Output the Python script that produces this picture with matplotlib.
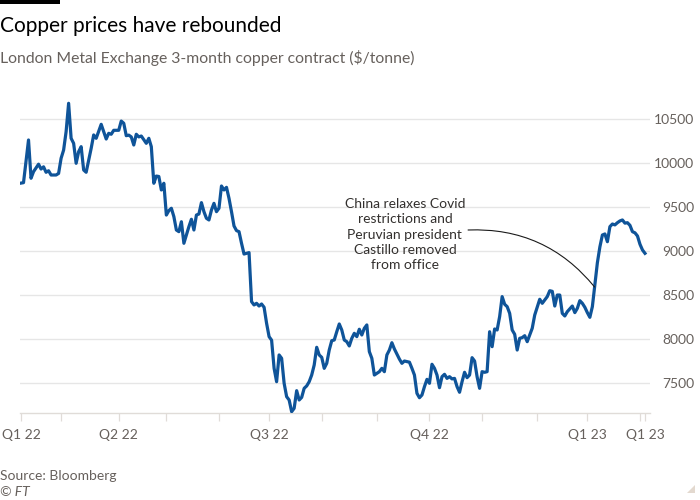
import matplotlib
matplotlib.use("Agg")
import matplotlib.pyplot as plt
import matplotlib.patches as mpatches
import numpy as np
import pandas as pd

plt.rcParams['font.family'] = ['Lato', 'DejaVu Sans']

# ---- data: LME 3-month copper ($/tonne), by trading session from 7 Feb 2022 ----
sessions = [0, 1, 3, 4, 5, 7, 8, 9, 10, 11, 12, 14, 15, 16, 17, 18, 19, 20, 21, 22,
            23, 24, 25, 26, 28, 29, 30, 32, 34, 35, 36, 37, 39, 40, 41, 42, 43, 44, 45, 46,
            47, 48, 50, 51, 52, 53, 54, 55, 56, 57, 58, 59, 60, 61, 62, 63, 64, 65, 66, 67,
            68, 69, 70, 71, 72, 73, 74, 75, 76, 77, 78, 79, 80, 81, 82, 83, 84, 85, 86, 87,
            88, 89, 90, 91, 92, 93, 94, 95, 96, 97, 98, 99, 100, 101, 102, 103, 104, 105, 106, 107,
            108, 109, 110, 111, 112, 113, 114, 115, 116, 117, 118, 119, 120, 121, 122, 123, 124, 125, 126, 127,
            128, 129, 130, 131, 132, 133, 134, 135, 136, 137, 138, 139, 140, 141, 143, 144, 145, 146, 147, 148,
            149, 151, 152, 153, 154, 155, 156, 157, 158, 159, 160, 161, 162, 163, 164, 165, 166, 167, 168, 169,
            170, 171, 172, 173, 174, 175, 176, 177, 178, 179, 180, 181, 182, 183, 184, 185, 186, 187, 188, 189,
            190, 191, 192, 193, 194, 195, 196, 197, 198, 199, 200, 201, 202, 204, 205, 207, 208, 209, 210, 211,
            212, 213, 214, 215, 216, 217, 218, 220, 221, 222, 223, 224, 225, 226, 227, 228, 229, 230, 231, 232,
            233, 234, 235, 236, 237, 238, 239, 240, 241, 242, 243, 244, 245, 246, 247, 248, 249]
prices = [9775, 9780, 10265, 9830, 9905, 9990, 9935, 9960, 9898, 9915, 9867, 9867, 9885, 10057, 10150, 10360, 10682, 10284, 10227, 10000,
          10132, 10189, 9924, 9898, 10170, 10322, 10284, 10443, 10276, 10341, 10330, 10375, 10375, 10480, 10455, 10314, 10320, 10300, 10208, 10330,
          10300, 10310, 10227, 10284, 10189, 9773, 9855, 9850, 9697, 9773, 9412, 9462, 9489, 9394, 9242, 9223, 9336, 9091, 9185, 9280,
          9364, 9242, 9412, 9424, 9553, 9450, 9375, 9356, 9469, 9545, 9450, 9489, 9742, 9697, 9727, 9602, 9450, 9288, 9235, 9223,
          9091, 8969, 8977, 8985, 8428, 8390, 8409, 8378, 8401, 8364, 8182, 8030, 7990, 7670, 7518, 7822, 7784, 7500, 7348, 7310,
          7177, 7216, 7416, 7310, 7340, 7443, 7470, 7518, 7594, 7708, 7909, 7822, 7795, 7670, 7727, 7878, 7984, 7992, 8086, 8174,
          8106, 7992, 7973, 7924, 8011, 8068, 8030, 8114, 8049, 8125, 8163, 7860, 7784, 7594, 7632, 7670, 7632, 7822, 7878, 7961,
          7890, 7775, 7727, 7753, 7746, 7740, 7670, 7594, 7386, 7336, 7367, 7462, 7545, 7500, 7716, 7670, 7594, 7450, 7575, 7602,
          7556, 7575, 7550, 7556, 7462, 7398, 7518, 7625, 7564, 7594, 7791, 7753, 7575, 7443, 7632, 7625, 7632, 8086, 7916, 8117,
          8106, 8258, 8485, 8398, 8371, 8295, 8106, 8057, 7878, 8011, 8019, 8041, 7973, 8125, 8276, 8455, 8409, 8447, 8485, 8552,
          8545, 8378, 8503, 8503, 8295, 8265, 8314, 8378, 8303, 8352, 8439, 8409, 8364, 8303, 8250, 8371, 8617, 8870, 9050, 9185,
          9197, 9109, 9280, 9310, 9300, 9325, 9345, 9356, 9320, 9325, 9295, 9223, 9210, 9174, 9080, 9015, 8977]

start_date = "2022-02-07"
end_date = "2023-02-03"
uk_holidays = ["2022-04-15", "2022-04-18", "2022-05-02", "2022-06-02", "2022-06-03",
               "2022-08-29", "2022-09-19", "2022-12-26", "2022-12-27", "2023-01-02"]
quarter_labels = {"2022-04-01": "Q2 22", "2022-07-01": "Q3 22", "2022-10-01": "Q4 22", "2023-01-01": "Q1 23"}
first_label = "Q1 22"
last_label = "Q1 23"
y_ticks = [7500, 8000, 8500, 9000, 9500, 10000, 10500]

title = "Copper prices have rebounded"
subtitle = "London Metal Exchange 3-month copper contract ($/tonne)"
source = "Source: Bloomberg"
credit = "© FT"
note = "China relaxes Covid\nrestrictions and\nPeruvian president\nCastillo removed\nfrom office"

# trading calendar
days = pd.bdate_range(start_date, end_date)
days = days[~days.isin(pd.to_datetime(uk_holidays))]
n_days = len(days)

tick_pos, tick_lab = [0], [first_label]
for m in pd.date_range("2022-03-01", end_date, freq="MS"):
    pos = int(np.searchsorted(days.values, np.datetime64(m)))
    tick_pos.append(pos)
    tick_lab.append(quarter_labels.get(m.strftime("%Y-%m-%d"), ""))
tick_pos.append(n_days - 1)
tick_lab.append(last_label)

# ---- figure ----
W, H = 700, 500
fig = plt.figure(figsize=(7, 5), dpi=100, facecolor="white")
ax_top_px, ax_bot_px, ax_l_px, ax_r_px = 92.9, 413.3, 20, 650
ax = fig.add_axes([ax_l_px / W, 1 - ax_bot_px / H, (ax_r_px - ax_l_px) / W, (ax_bot_px - ax_top_px) / H])
ax.set_facecolor("white")

ax.plot(sessions, prices, color="#0f5499", lw=2.3, solid_joinstyle="round", zorder=3)

ax.set_xlim(-0.4, 251.0)
ax.set_ylim(7159, 10800)

ax.set_yticks(y_ticks)
ax.set_yticklabels([str(v) for v in y_ticks])
ax.yaxis.tick_right()
ax.tick_params(axis="y", length=0, pad=31.7, labelsize=10, labelcolor="#66605c")
for lab in ax.get_yticklabels():
    lab.set_horizontalalignment("right")
ax.grid(axis="y", color="#e6e6e6", lw=1.0, zorder=0)

ax.set_xticks(tick_pos)
ax.set_xticklabels(tick_lab)
ax.tick_params(axis="x", length=5.5, width=0.9, color="#e0dcd8", pad=6, labelsize=10, labelcolor="#66605c")

for s in ["top", "left", "right"]:
    ax.spines[s].set_visible(False)
ax.spines["bottom"].set_color("#e0dcd8")
ax.spines["bottom"].set_linewidth(1.0)

# annotation
ax.text(153.2, 9190, note, ha="center", va="center", multialignment="center",
        fontsize=10, color="#33302e", linespacing=1.32, zorder=4)
ax.annotate("", xy=(228.9, 8594), xytext=(178.4, 9242),
            arrowprops=dict(arrowstyle="-", color="#1a1a1a", lw=0.8,
                            connectionstyle="arc3,rad=-0.25", shrinkA=0, shrinkB=0), zorder=4)

# texts
fig.text(0, 1 - 31.7 / H, title, fontsize=15, color="#000000", va="baseline", ha="left")
fig.text(0, 1 - 63.3 / H, subtitle, fontsize=11.3, color="#66605c", va="baseline", ha="left")
fig.text(0, 1 - 480 / H, source, fontsize=10, color="#66605c", va="baseline", ha="left")
fig.text(0, 1 - 496 / H, credit, fontsize=10, color="#66605c", va="baseline", ha="left", style="italic")

# decorative top bar and corner mark
fig.patches.append(mpatches.Rectangle((0, 1 - 4 / H), 60 / W, 4 / H, transform=fig.transFigure,
                                      facecolor="#000000", edgecolor="none"))
fig.patches.append(mpatches.Polygon([(695 / W, 1 - 485 / H), (695 / W, 1 - 493 / H), (687 / W, 1 - 493 / H)],
                                    closed=True, transform=fig.transFigure, facecolor="#e3d9cf", edgecolor="none"))

fig.savefig("out.png", dpi=100, facecolor="white")
